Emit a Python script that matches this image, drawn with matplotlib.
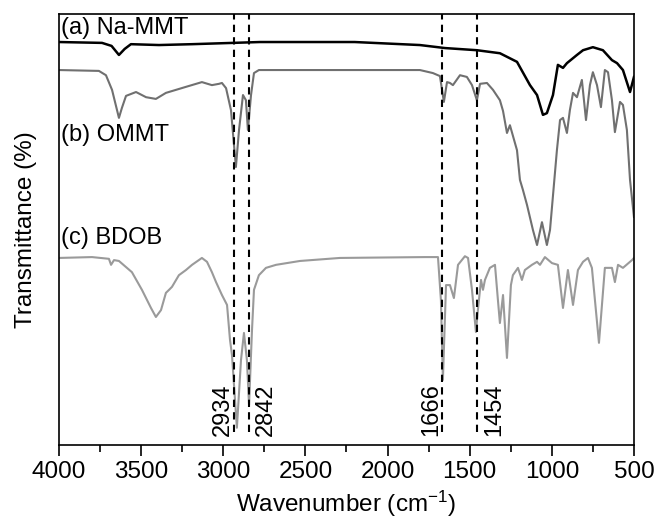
import matplotlib.pyplot as plt

plt.rcParams['font.family'] = ['Liberation Sans', 'DejaVu Sans']
plt.rcParams['mathtext.default'] = 'regular'

# (a) Na-MMT
wnA = [4000, 3738, 3680, 3635, 3600, 3562, 3391, 3190, 2777, 2200, 1803, 1650, 1456, 1316,
       1212, 1133, 1090, 1054, 1030, 993, 963, 932, 908, 847, 810, 750, 689, 634, 603, 567,
       524, 500]
tA = [93.5, 93.3, 92.6, 90.5, 91.9, 93.0, 92.8, 93.0, 93.5, 93.5, 92.8, 92.1, 91.6, 90.9,
      88.9, 83.5, 81.2, 76.6, 77.0, 81.2, 88.2, 87.5, 88.6, 90.5, 91.6, 92.3, 91.6, 89.3, 88.6, 87.0,
      81.9, 85.4]

# (b) OMMT
wnB = [4000, 3757, 3714, 3677, 3635, 3617, 3592, 3531, 3470, 3410, 3349, 3227, 3130, 3069,
       3026, 3008, 2983, 2953, 2923, 2904, 2880, 2862, 2850, 2831, 2813, 2783, 2200, 1803,
       1724, 1681, 1657, 1638, 1620, 1602, 1559, 1517, 1486, 1456, 1437, 1395, 1358, 1316,
       1297, 1273, 1255, 1212, 1194, 1176, 1151, 1115, 1090, 1060, 1030, 1011, 969, 950, 932,
       908, 890, 871, 847, 817, 792, 768, 750, 725, 701, 677, 658, 634, 616, 585, 567, 543,
       524, 500]
tB = [87.0, 86.8, 85.8, 82.4, 75.9, 78.2, 81.0, 81.9, 80.7, 80.3, 81.7, 83.1, 84.2, 83.5,
      83.8, 84.0, 82.8, 77.7, 64.5, 73.1, 81.2, 80.0, 73.1, 81.2, 86.3, 87.0, 87.0, 87.0,
      86.3, 85.6, 79.6, 84.2, 84.0, 83.5, 85.8, 85.4, 83.5, 80.0, 83.8, 84.0, 82.4, 80.0,
      77.5, 72.4, 74.2, 68.4, 61.5, 59.2, 55.7, 49.9, 46.4, 51.7, 46.4, 49.9, 68.4, 75.4, 75.9,
      72.4, 77.7, 81.7, 80.7, 84.7, 75.4, 83.5, 86.5, 83.5, 78.4, 87.0, 86.5, 80.0, 72.6, 79.6, 78.9, 73.1,
      61.5, 52.9]

# (c) BDOB
wnC = [4000, 3799, 3696, 3683, 3665, 3635, 3556, 3495, 3440, 3410, 3379, 3349, 3330, 3312,
       3270, 3227, 3190, 3130, 3099, 3069, 3044, 3008, 2977, 2959, 2947, 2917, 2892, 2874,
       2856, 2843, 2825, 2813, 2783, 2740, 2679, 2533, 2290, 1772, 1693, 1675, 1663, 1644,
       1620, 1596, 1571, 1529, 1510, 1486, 1462, 1450, 1431, 1419, 1407, 1377, 1346, 1328,
       1316, 1297, 1273, 1249, 1237, 1206, 1182, 1164, 1121, 1090, 1072, 1042, 999, 963, 932,
       902, 871, 841, 810, 780, 756, 713, 677, 634, 616, 597, 567, 512, 500]
tC = [43.4, 43.6, 43.2, 41.8, 42.9, 42.7, 40.1, 36.0, 31.8, 29.7, 31.3, 35.3, 36.0, 36.7,
      39.4, 40.6, 41.8, 43.4, 42.5, 40.1, 37.8, 34.8, 32.5, 24.4, 20.9, 4.0, 19.7, 26.0,
      19.7, 9.3, 26.7, 36.0, 39.4, 41.1, 41.8, 42.7, 43.4, 43.6, 43.6, 33.6, 15.1, 37.1,
      37.1, 34.1, 41.8, 43.8, 43.4, 36.0, 26.2, 31.3, 38.3, 36.0, 38.3, 41.1, 41.8, 33.6,
      28.3, 34.8, 20.2, 37.1, 39.4, 41.1, 38.3, 40.6, 41.8, 42.5, 41.8, 43.6, 42.2, 41.8, 31.8,
      40.6, 32.5, 40.6, 42.5, 43.4, 41.1, 23.7, 41.1, 41.1, 37.8, 41.8, 41.1, 42.9, 43.4]

peaks = [2934, 2842, 1666, 1454]
peakOffsets = [-8, 12, -8, 12]
curveLabels = ["(a) Na-MMT", "(b) OMMT", "(c) BDOB"]
labelY = [96.7, 71.9, 48.0]

fig = plt.figure(figsize=(6.56, 5.19), dpi=100)
ax = fig.add_axes([0.0899, 0.1426, 0.8765, 0.8304])

ax.plot(wnA, tA, color='black', lw=1.8)
ax.plot(wnB, tB, color='#707070', lw=1.5)
ax.plot(wnC, tC, color='#9a9a9a', lw=1.5)

ax.vlines(peaks, 3, 100, colors='black', linestyles=(0, (3.5, 2.5)), lw=1.5)

for p, dx in zip(peaks, peakOffsets):
    ax.annotate(str(p), xy=(p, 2.1), xytext=(dx, 0), textcoords='offset points',
                rotation=90, ha='center', va='bottom', fontsize=17)

for txt, y in zip(curveLabels, labelY):
    ax.text(3985, y, txt, ha='left', va='center', fontsize=17)

ax.set_xlim(4000, 500)
ax.set_ylim(0, 100)
ax.set_xticks([4000, 3500, 3000, 2500, 2000, 1500, 1000, 500])
ax.set_xticks([3750, 3250, 2750, 2250, 1750, 1250, 750], minor=True)
ax.set_yticks([])
ax.tick_params(axis='x', which='major', length=8, width=1.2, labelsize=17.5, direction='out')
ax.tick_params(axis='x', which='minor', length=5, width=1.2, direction='out')
for s in ax.spines.values():
    s.set_linewidth(1.2)

ax.set_xlabel("Wavenumber (cm$^{-1}$)", fontsize=17.5, labelpad=4.5)
ax.set_ylabel("Transmittance (%)", fontsize=17.5, labelpad=16)

fig.savefig("out.png", dpi=100)
